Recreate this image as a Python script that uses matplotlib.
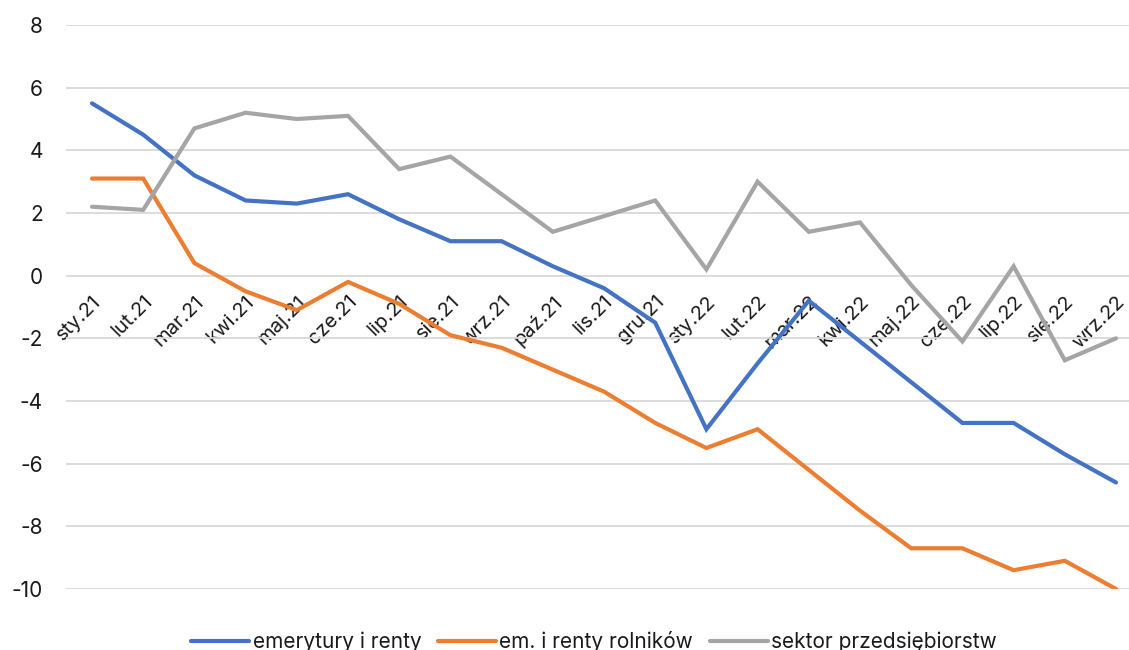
import matplotlib
matplotlib.use("Agg")
import matplotlib.pyplot as plt

categories = ["sty.21", "lut.21", "mar.21", "kwi.21", "maj.21", "cze.21", "lip.21",
              "sie.21", "wrz.21", "paź.21", "lis.21", "gru.21", "sty.22", "lut.22",
              "mar.22", "kwi.22", "maj.22", "cze.22", "lip.22", "sie.22", "wrz.22"]
emerytury = [5.5, 4.5, 3.2, 2.4, 2.3, 2.6, 1.8, 1.1, 1.1, 0.3, -0.4, -1.5, -4.9, -2.8,
             -0.8, -2.1, -3.4, -4.7, -4.7, -5.7, -6.6]
rolnicy = [3.1, 3.1, 0.4, -0.5, -1.1, -0.2, -0.9, -1.9, -2.3, -3.0, -3.7, -4.7, -5.5, -4.9,
           -6.2, -7.5, -8.7, -8.7, -9.4, -9.1, -10.0]
przedsiebiorstwa = [2.2, 2.1, 4.7, 5.2, 5.0, 5.1, 3.4, 3.8, 2.6, 1.4, 1.9, 2.4, 0.2, 3.0,
                    1.4, 1.7, -0.3, -2.1, 0.3, -2.7, -2.0]
series_names = ["emerytury i renty", "em. i renty rolników", "sektor przedsiębiorstw"]
colors = ["#4472C4", "#ED7D31", "#A5A5A5"]
yticks = [-10, -8, -6, -4, -2, 0, 2, 4, 6, 8]

plt.rcParams['font.family'] = ['Inter', 'DejaVu Sans']

W, H = 1129, 650
fig = plt.figure(figsize=(W / 100, H / 100), dpi=100)
x0, x1 = 66.4, 1141.6
ax = fig.add_axes([x0 / W, 1 - 589 / H, (x1 - x0) / W, (589 - 25) / H])

x = list(range(len(categories)))
for vals, name, c in zip([emerytury, rolnicy, przedsiebiorstwa], series_names, colors):
    ax.plot(x, vals, color=c, lw=3, label=name, solid_capstyle='round', solid_joinstyle='miter')

ax.set_xlim(-0.5, len(categories) - 0.5)
ax.set_ylim(-10, 8)
ax.set_yticks(yticks)
ax.set_yticklabels([str(v) for v in yticks], fontsize=15, color="#1a1a1a")
ax.yaxis.grid(True, color="#D9D9D9", lw=1.3)
ax.set_axisbelow(True)
ax.tick_params(axis='y', length=0, pad=17)
for s in ["left", "right", "top"]:
    ax.spines[s].set_visible(False)
ax.spines["bottom"].set_position(("data", 0))
ax.spines["bottom"].set_visible(False)
ax.set_xticks(x)
ax.set_xticklabels(categories, rotation=45, ha='right', va='top', rotation_mode='anchor',
                   fontsize=14.5, color="#1a1a1a")
ax.tick_params(axis='x', length=0, pad=12)

leg = ax.legend(loc='upper center', bbox_to_anchor=((594 - x0) / (x1 - x0), -0.06), ncol=3,
                frameon=False, fontsize=15, handlelength=2.8, handletextpad=0.15,
                columnspacing=0.8, borderaxespad=0)
for t in leg.get_texts():
    t.set_color("#1a1a1a")

fig.savefig("out.png", dpi=100)
